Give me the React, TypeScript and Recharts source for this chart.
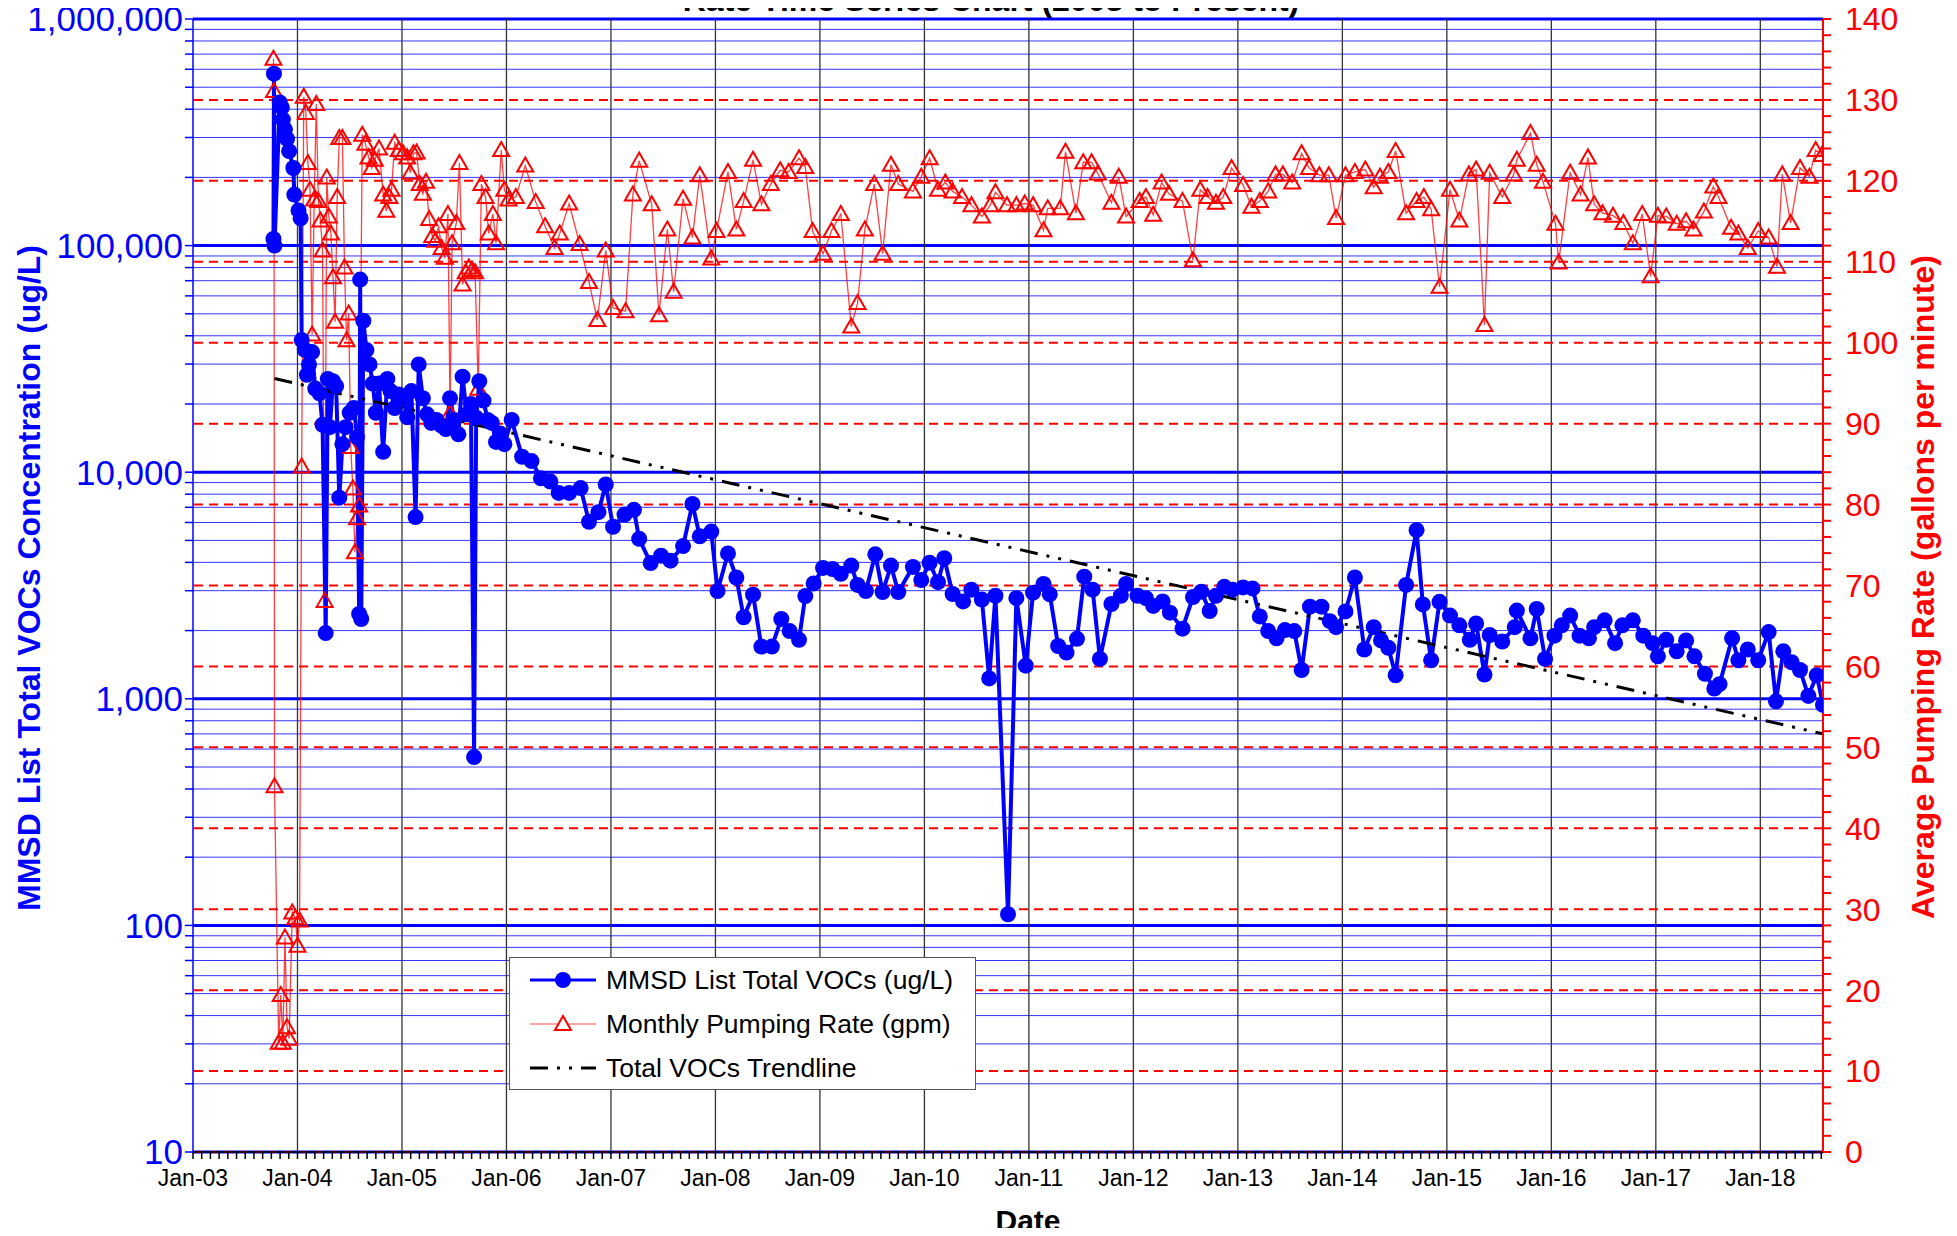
import React from "react";
import {
  ComposedChart,
  Line,
  XAxis,
  YAxis,
  ReferenceLine,
  Legend,
  Customized,
} from "recharts";

const FONT = "Arial, 'Liberation Sans', Helvetica, sans-serif";
const BLUE = "#0000FF";
const RED = "#FF0000";

// [decimal year, MMSD list total VOCs (ug/L)]
const vocs: [number, number][] = [
  [2003.77, 107000], [2003.775, 574000], [2003.78, 100000], [2003.83, 428000],
  [2003.85, 407000], [2003.86, 360000], [2003.88, 326000], [2003.9, 296000],
  [2003.92, 261000], [2003.96, 220000], [2003.97, 168000], [2004.01, 143000],
  [2004.03, 132000], [2004.04, 38300], [2004.07, 34700], [2004.09, 26900],
  [2004.11, 29900], [2004.14, 33900], [2004.17, 23400], [2004.21, 22300],
  [2004.24, 16200], [2004.27, 1950], [2004.29, 25800], [2004.31, 15800],
  [2004.34, 25200], [2004.37, 24000], [2004.4, 7720], [2004.43, 13300],
  [2004.46, 15800], [2004.5, 18300], [2004.54, 19200], [2004.57, 14300],
  [2004.59, 2370], [2004.6, 70800], [2004.61, 2250], [2004.63, 46600],
  [2004.66, 34600], [2004.69, 29900], [2004.72, 24600], [2004.75, 18300],
  [2004.78, 24600], [2004.82, 12300], [2004.86, 25800], [2004.89, 22800],
  [2004.93, 19200], [2004.97, 22000], [2005.01, 21200], [2005.05, 17500],
  [2005.09, 22800], [2005.13, 6340], [2005.16, 29900], [2005.2, 21200],
  [2005.24, 18000], [2005.28, 16500], [2005.33, 17000], [2005.38, 16000],
  [2005.42, 15500], [2005.46, 21200], [2005.5, 17000], [2005.54, 14700],
  [2005.58, 26400], [2005.62, 18000], [2005.66, 20000], [2005.69, 553],
  [2005.71, 17400], [2005.74, 25200], [2005.78, 20700], [2005.82, 17000],
  [2005.86, 16500], [2005.9, 13600], [2005.94, 14800], [2005.98, 13300],
  [2006.05, 17000], [2006.15, 11700], [2006.24, 11200], [2006.33, 9400],
  [2006.42, 9100], [2006.5, 8100], [2006.6, 8100], [2006.71, 8510],
  [2006.79, 6040], [2006.88, 6660], [2006.95, 8830], [2007.02, 5740],
  [2007.13, 6500], [2007.22, 6820], [2007.27, 5080], [2007.38, 3970],
  [2007.48, 4280], [2007.57, 4070], [2007.69, 4720], [2007.78, 7240],
  [2007.85, 5210], [2007.96, 5470], [2008.02, 2990], [2008.12, 4380],
  [2008.2, 3430], [2008.27, 2290], [2008.36, 2880], [2008.44, 1700],
  [2008.54, 1700], [2008.63, 2250], [2008.71, 1990], [2008.8, 1820],
  [2008.86, 2840], [2008.94, 3230], [2009.03, 3780], [2009.12, 3740],
  [2009.2, 3560], [2009.3, 3870], [2009.36, 3180], [2009.44, 2990],
  [2009.53, 4340], [2009.6, 2960], [2009.68, 3870], [2009.75, 2960],
  [2009.89, 3820], [2009.97, 3340], [2010.05, 3980], [2010.13, 3270],
  [2010.19, 4170], [2010.27, 2900], [2010.37, 2690], [2010.45, 3030],
  [2010.55, 2740], [2010.62, 1230], [2010.68, 2850], [2010.8, 112],
  [2010.88, 2780], [2010.97, 1400], [2011.04, 2940], [2011.14, 3210],
  [2011.2, 2890], [2011.28, 1710], [2011.36, 1600], [2011.46, 1840],
  [2011.53, 3460], [2011.61, 3030], [2011.68, 1500], [2011.79, 2620],
  [2011.88, 2850], [2011.93, 3210], [2012.04, 2850], [2012.12, 2780],
  [2012.19, 2570], [2012.28, 2690], [2012.35, 2400], [2012.47, 2040],
  [2012.57, 2810], [2012.65, 2970], [2012.73, 2440], [2012.79, 2850],
  [2012.87, 3120], [2012.95, 3030], [2013.05, 3100], [2013.14, 3070],
  [2013.21, 2310], [2013.29, 1990], [2013.37, 1850], [2013.45, 2010],
  [2013.54, 1990], [2013.61, 1340], [2013.69, 2550], [2013.8, 2550],
  [2013.88, 2200], [2013.94, 2070], [2014.03, 2430], [2014.12, 3430],
  [2014.21, 1650], [2014.3, 2070], [2014.37, 1810], [2014.44, 1680],
  [2014.51, 1270], [2014.61, 3180], [2014.71, 5550], [2014.77, 2610],
  [2014.85, 1480], [2014.93, 2680], [2015.03, 2330], [2015.12, 2110],
  [2015.22, 1820], [2015.28, 2150], [2015.36, 1280], [2015.41, 1910],
  [2015.53, 1790], [2015.65, 2070], [2015.67, 2450], [2015.8, 1850],
  [2015.86, 2490], [2015.94, 1500], [2016.03, 1900], [2016.1, 2110],
  [2016.18, 2330], [2016.27, 1900], [2016.36, 1850], [2016.41, 2070],
  [2016.51, 2220], [2016.61, 1760], [2016.68, 2110], [2016.78, 2220],
  [2016.88, 1900], [2016.97, 1760], [2017.02, 1540], [2017.1, 1820],
  [2017.2, 1620], [2017.29, 1810], [2017.37, 1540], [2017.47, 1290],
  [2017.56, 1110], [2017.61, 1160], [2017.73, 1850], [2017.79, 1480],
  [2017.88, 1650], [2017.98, 1480], [2018.08, 1970], [2018.15, 975],
  [2018.22, 1620], [2018.3, 1450], [2018.38, 1340], [2018.46, 1030],
  [2018.54, 1270], [2018.6, 940],
];

// [decimal year, monthly pumping rate (gpm)]
const pumping: [number, number][] = [
  [2003.77, 135.1], [2003.775, 131.1], [2003.78, 45.2], [2003.82, 13.5],
  [2003.84, 19.4], [2003.86, 13.5], [2003.88, 26.5], [2003.9, 15.4],
  [2003.92, 14.0], [2003.95, 29.6], [2003.98, 28.9], [2004.0, 25.5],
  [2004.02, 28.6], [2004.04, 84.7], [2004.06, 130.4], [2004.08, 128.4],
  [2004.1, 122.2], [2004.12, 118.9], [2004.14, 101.0], [2004.16, 117.7],
  [2004.18, 129.5], [2004.2, 117.5], [2004.22, 115.1], [2004.24, 111.4],
  [2004.26, 68.1], [2004.28, 120.4], [2004.3, 115.6], [2004.32, 113.5],
  [2004.34, 108.1], [2004.36, 102.6], [2004.38, 118.0], [2004.4, 125.3],
  [2004.43, 125.3], [2004.45, 109.3], [2004.47, 100.3], [2004.49, 103.6],
  [2004.51, 87.1], [2004.53, 82.0], [2004.55, 74.1], [2004.57, 78.3],
  [2004.59, 79.9], [2004.62, 125.7], [2004.65, 124.6], [2004.68, 122.9],
  [2004.71, 121.6], [2004.74, 122.6], [2004.78, 124.0], [2004.82, 118.3],
  [2004.85, 116.3], [2004.88, 118.0], [2004.9, 118.9], [2004.93, 124.7],
  [2004.97, 123.8], [2005.01, 123.4], [2005.05, 122.9], [2005.08, 121.0],
  [2005.11, 123.4], [2005.14, 123.5], [2005.17, 119.6], [2005.2, 118.4],
  [2005.23, 119.9], [2005.26, 115.3], [2005.29, 113.2], [2005.32, 112.6],
  [2005.35, 114.4], [2005.38, 111.7], [2005.41, 110.5], [2005.44, 115.9],
  [2005.46, 91.3], [2005.48, 112.3], [2005.52, 114.8], [2005.55, 122.2],
  [2005.58, 107.2], [2005.61, 108.7], [2005.64, 109.3], [2005.67, 109.0],
  [2005.7, 108.7], [2005.73, 94.3], [2005.76, 119.6], [2005.8, 118.0],
  [2005.83, 113.5], [2005.87, 115.9], [2005.9, 112.3], [2005.95, 123.8],
  [2005.98, 118.9], [2006.02, 117.7], [2006.09, 118.0], [2006.18, 121.9],
  [2006.28, 117.4], [2006.37, 114.4], [2006.46, 111.7], [2006.51, 113.5],
  [2006.6, 117.2], [2006.7, 112.2], [2006.79, 107.5], [2006.87, 102.8],
  [2006.95, 111.4], [2007.02, 104.3], [2007.14, 103.9], [2007.21, 118.3],
  [2007.27, 122.5], [2007.39, 117.1], [2007.46, 103.4], [2007.54, 114.0],
  [2007.6, 106.3], [2007.69, 117.8], [2007.78, 113.0], [2007.85, 120.7],
  [2007.96, 110.4], [2008.01, 113.8], [2008.12, 121.1], [2008.2, 114.0],
  [2008.27, 117.5], [2008.36, 122.6], [2008.44, 117.1], [2008.53, 119.6],
  [2008.62, 121.3], [2008.7, 121.1], [2008.8, 122.8], [2008.86, 121.7],
  [2008.93, 113.8], [2009.03, 111.0], [2009.11, 113.8], [2009.2, 115.9],
  [2009.3, 102.0], [2009.36, 104.9], [2009.43, 114.0], [2009.52, 119.6],
  [2009.6, 111.0], [2009.68, 122.0], [2009.75, 119.6], [2009.89, 118.7],
  [2009.97, 120.5], [2010.05, 122.8], [2010.13, 118.9], [2010.2, 119.8],
  [2010.27, 118.7], [2010.36, 118.0], [2010.45, 117.0], [2010.55, 115.6],
  [2010.63, 117.0], [2010.68, 118.6], [2010.79, 117.0], [2010.88, 117.0],
  [2010.96, 117.2], [2011.04, 117.0], [2011.14, 113.9], [2011.18, 116.6],
  [2011.3, 116.6], [2011.35, 123.6], [2011.45, 116.0], [2011.52, 122.3],
  [2011.6, 122.3], [2011.66, 120.9], [2011.79, 117.3], [2011.86, 120.5],
  [2011.93, 115.6], [2012.06, 117.5], [2012.12, 118.0], [2012.19, 115.8],
  [2012.27, 119.8], [2012.34, 118.4], [2012.47, 117.5], [2012.57, 110.2],
  [2012.64, 118.9], [2012.71, 118.0], [2012.79, 117.3], [2012.86, 118.0],
  [2012.94, 121.6], [2013.05, 119.5], [2013.13, 116.8], [2013.21, 117.5],
  [2013.29, 118.7], [2013.36, 120.8], [2013.43, 120.8], [2013.52, 119.8],
  [2013.61, 123.4], [2013.68, 121.6], [2013.78, 120.7], [2013.87, 120.7],
  [2013.94, 115.4], [2014.03, 120.7], [2014.12, 121.1], [2014.22, 121.4],
  [2014.3, 119.2], [2014.36, 120.5], [2014.44, 121.1], [2014.51, 123.7],
  [2014.61, 116.0], [2014.71, 117.5], [2014.78, 118.0], [2014.85, 116.5],
  [2014.93, 106.9], [2015.03, 118.9], [2015.12, 115.1], [2015.21, 120.8],
  [2015.28, 121.4], [2015.36, 102.2], [2015.41, 121.0], [2015.53, 118.0],
  [2015.64, 120.8], [2015.67, 122.6], [2015.8, 125.9], [2015.86, 122.0],
  [2015.92, 119.9], [2016.04, 114.7], [2016.07, 109.9], [2016.18, 121.0],
  [2016.28, 118.3], [2016.35, 122.9], [2016.41, 117.1], [2016.49, 116.0],
  [2016.59, 115.7], [2016.69, 114.8], [2016.78, 112.3], [2016.87, 115.9],
  [2016.95, 108.2], [2017.02, 115.7], [2017.1, 115.6], [2017.2, 114.7],
  [2017.29, 115.0], [2017.36, 114.0], [2017.46, 116.2], [2017.55, 119.3],
  [2017.6, 118.0], [2017.72, 114.2], [2017.79, 113.5], [2017.88, 111.7],
  [2017.98, 113.8], [2018.08, 113.0], [2018.16, 109.4], [2018.21, 120.8],
  [2018.29, 114.8], [2018.38, 121.6], [2018.47, 120.5], [2018.53, 123.8],
  [2018.59, 123.2],
];

// exponential trendline end points
const trend: [number, number][] = [
  [2003.78, 25900],
  [2018.6, 700],
];

const xDomain = [2003, 2018.6];
const yearTicks = [
  2003, 2004, 2005, 2006, 2007, 2008, 2009, 2010, 2011, 2012, 2013, 2014,
  2015, 2016, 2017, 2018,
];
const decades = [10, 100, 1000, 10000, 100000, 1000000];
const gpmMajor = [0, 10, 20, 30, 40, 50, 60, 70, 80, 90, 100, 110, 120, 130];

const monthTicks: number[] = [];
for (let i = 0; i <= 187; i++) monthTicks.push(2003 + i / 12);
const logMinor: number[] = [];
for (const d of decades.slice(0, -1)) {
  for (let k = 2; k <= 9; k++) logMinor.push(d * k);
}
const logAll = [...decades, ...logMinor].sort((a, b) => a - b);
const gpmMinor: number[] = [];
for (let g = 0; g <= 140; g += 2) gpmMinor.push(g);

const vocData = vocs.map(([t, v]) => ({ t, v }));
const gpmData = pumping.map(([t, g]) => ({ t, g }));
const trendData = trend.map(([t, v]) => ({ t, v }));

const isDecade = (v: number) => decades.includes(v);
const janLabel = (y: number) =>
  Math.abs(y - Math.round(y)) < 1e-6
    ? `Jan-${String(Math.round(y) % 100).padStart(2, "0")}`
    : "";

const renderCircle = (p: any) => (
  <circle key={`c-${p.index}`} cx={p.cx} cy={p.cy} r={8} fill={BLUE} />
);

const renderTriangle = (p: any) => {
  const { cx, cy } = p;
  if (cx == null || cy == null) return <g key={`t-${p.index}`} />;
  return (
    <polygon
      key={`t-${p.index}`}
      points={`${cx},${cy - 8} ${cx - 8},${cy + 6} ${cx + 8},${cy + 6}`}
      fill="none"
      stroke={RED}
      strokeWidth={2}
    />
  );
};

const legendItems = [
  { label: "MMSD List Total VOCs (ug/L)", kind: "voc" },
  { label: "Monthly Pumping Rate (gpm)", kind: "gpm" },
  { label: "Total VOCs Trendline", kind: "trend" },
];

const renderLegend = () => (
  <div
    style={{
      width: 467,
      height: 133,
      boxSizing: "border-box",
      border: "1.5px solid #555",
      background: "#fff",
      fontFamily: FONT,
      fontSize: 26.5,
      color: "#000",
    }}
  >
    {legendItems.map((it) => (
      <div
        key={it.kind}
        style={{ height: 44, display: "flex", alignItems: "center" }}
      >
        <svg width={66} height={24} style={{ marginLeft: 20, marginRight: 10 }}>
          {it.kind === "voc" && (
            <>
              <line x1={0} y1={12} x2={66} y2={12} stroke={BLUE} strokeWidth={3} />
              <circle cx={33} cy={12} r={8} fill={BLUE} />
            </>
          )}
          {it.kind === "gpm" && (
            <>
              <line x1={0} y1={12} x2={66} y2={12} stroke={RED} strokeOpacity={0.7} strokeWidth={1.2} />
              <polygon points="33,4 25,18 41,18" fill="#fff" stroke={RED} strokeWidth={2} />
            </>
          )}
          {it.kind === "trend" && (
            <line x1={0} y1={12} x2={66} y2={12} stroke="#000" strokeWidth={3} strokeDasharray="18 9 3 9 3 9" />
          )}
        </svg>
        <span>{it.label}</span>
      </div>
    ))}
  </div>
);

const Titles = () => (
  <g fontFamily={FONT} fontWeight="bold">
    <text x={991} y={11} textAnchor="middle" fontSize={32} fill="#000">
      Rate Time Series Chart (2003 to Present)
    </text>
    <text
      x={29}
      y={578}
      textAnchor="middle"
      dominantBaseline="central"
      fontSize={32}
      fill={BLUE}
      transform="rotate(-90 29 578)"
    >
      MMSD List Total VOCs Concentration (ug/L)
    </text>
    <text
      x={1923}
      y={587}
      textAnchor="middle"
      dominantBaseline="central"
      fontSize={32}
      fill={RED}
      transform="rotate(-90 1923 587)"
    >
      Average Pumping Rate (gallons per minute)
    </text>
    <text x={1028} y={1231} textAnchor="middle" fontSize={30} fill="#000">
      Date
    </text>
  </g>
);

export default function App() {
  return (
    <div style={{ margin: "-8px 0 -8px -8px", width: 1950, height: 1236 }}>
      <ComposedChart
        width={1950}
        height={1236}
        margin={{ top: 19, right: 0, bottom: 8, left: 0 }}
        style={{ background: "#fff" }}
      >
        {/* log grid (blue) */}
        {logMinor.map((v) => (
          <ReferenceLine key={`lm-${v}`} xAxisId="x" yAxisId="left" y={v} stroke={BLUE} strokeWidth={1} strokeOpacity={0.8} />
        ))}
        {decades.map((v) => (
          <ReferenceLine key={`ld-${v}`} xAxisId="x" yAxisId="left" y={v} stroke={BLUE} strokeWidth={3} />
        ))}
        {/* vertical year lines */}
        {yearTicks.slice(1).map((y) => (
          <ReferenceLine key={`vy-${y}`} xAxisId="x" yAxisId="left" x={y} stroke="#333" strokeWidth={1.3} />
        ))}
        {/* pumping grid (red dashed) */}
        {gpmMajor.map((g) => (
          <ReferenceLine key={`rg-${g}`} xAxisId="x" yAxisId="right" y={g} stroke={RED} strokeWidth={2} strokeDasharray="9 6" />
        ))}

        <XAxis
          xAxisId="x"
          dataKey="t"
          type="number"
          domain={xDomain}
          allowDataOverflow
          ticks={monthTicks}
          interval={0}
          tickFormatter={janLabel}
          height={76}
          stroke="#000"
          strokeWidth={1.5}
          tickSize={7}
          tickMargin={11}
          tick={{ fill: "#000", fontSize: 23, fontFamily: FONT }}
        />
        <XAxis
          xAxisId="xin"
          dataKey="t"
          type="number"
          domain={xDomain}
          allowDataOverflow
          ticks={monthTicks}
          interval={0}
          mirror
          height={0}
          axisLine={false}
          tick={false}
          tickSize={7}
          stroke="#000"
        />
        <YAxis
          yAxisId="left"
          type="number"
          scale="log"
          domain={[10, 1000000]}
          allowDataOverflow
          ticks={logAll}
          interval={0}
          tickFormatter={(v: number) => (isDecade(v) ? v.toLocaleString("en-US") : "")}
          width={193}
          stroke={BLUE}
          strokeWidth={1.5}
          tickSize={8}
          tickMargin={2}
          tick={{ fill: BLUE, fontSize: 35, fontFamily: FONT }}
        />
        <YAxis
          yAxisId="right"
          orientation="right"
          type="number"
          domain={[0, 140]}
          allowDataOverflow
          ticks={gpmMinor}
          interval={0}
          tickFormatter={(v: number) => (v % 10 === 0 ? String(v) : "")}
          width={127}
          stroke={RED}
          strokeWidth={2}
          tickSize={8}
          tickMargin={14}
          tick={{ fill: RED, fontSize: 32, fontFamily: FONT }}
        />
        <YAxis
          yAxisId="rin"
          orientation="right"
          type="number"
          domain={[0, 140]}
          allowDataOverflow
          ticks={gpmMinor}
          interval={0}
          mirror
          width={0}
          axisLine={false}
          tick={false}
          tickSize={8}
          stroke={RED}
        />

        <Line
          data={gpmData}
          xAxisId="x"
          yAxisId="right"
          dataKey="g"
          stroke={RED}
          strokeOpacity={0.75}
          strokeWidth={1.3}
          dot={renderTriangle}
          activeDot={false}
          isAnimationActive={false}
        />
        <Line
          data={vocData}
          xAxisId="x"
          yAxisId="left"
          dataKey="v"
          stroke={BLUE}
          strokeWidth={4}
          dot={renderCircle}
          activeDot={false}
          isAnimationActive={false}
        />
        <Line
          data={trendData}
          xAxisId="x"
          yAxisId="left"
          dataKey="v"
          stroke="#000"
          strokeWidth={3}
          strokeDasharray="18 9 3 9 3 9"
          dot={false}
          activeDot={false}
          isAnimationActive={false}
        />

        <Legend
          content={renderLegend}
          layout="vertical"
          align="center"
          verticalAlign="middle"
          wrapperStyle={{ left: 509, top: 957, width: 467, height: 133 }}
        />
        <Customized component={Titles} />
      </ComposedChart>
    </div>
  );
}
